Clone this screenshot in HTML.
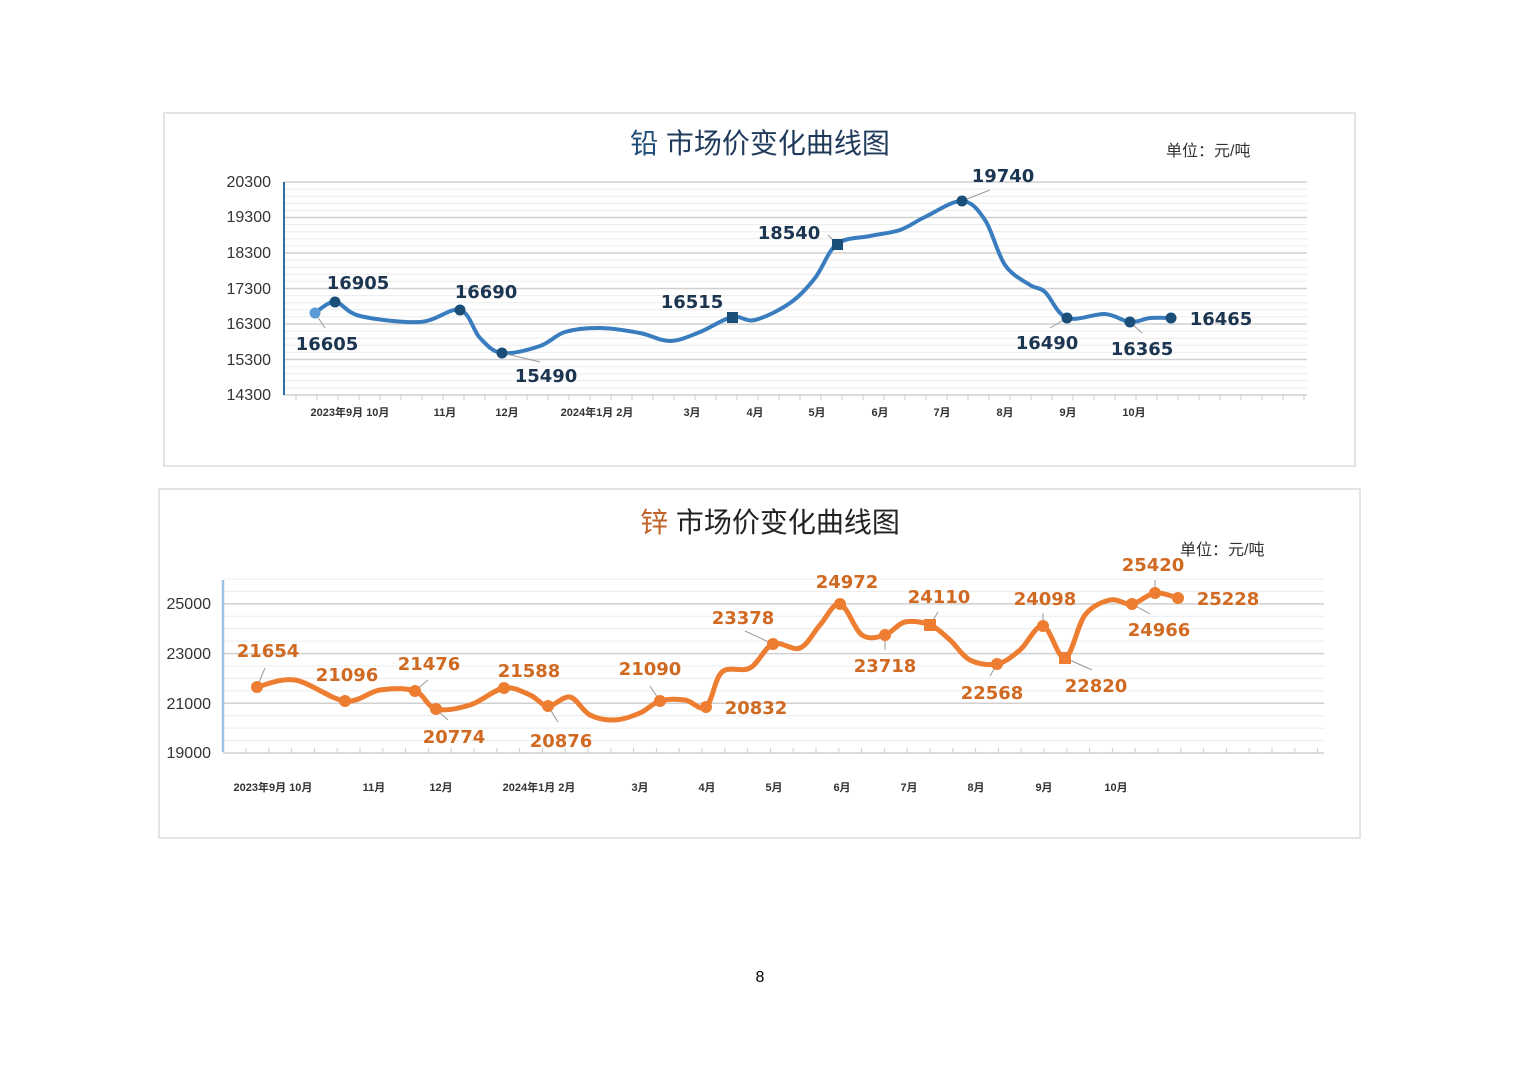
<!DOCTYPE html>
<html><head><meta charset="utf-8"><style>
html,body{margin:0;padding:0;background:#fff;}
svg{display:block;font-family:"Liberation Sans","Noto Sans CJK SC",sans-serif;}
.lb{font-family:"DejaVu Sans","Liberation Sans",sans-serif;font-weight:bold;font-size:18px;}
</style></head><body>
<svg id="s" width="1520" height="1074" viewBox="0 0 1520 1074" xmlns="http://www.w3.org/2000/svg">
<rect width="1520" height="1074" fill="#fff"/>
<!-- Lead -->
<rect x="164" y="113" width="1191" height="353" fill="#fff" stroke="#dcdcdc" stroke-width="1.5"/>
<text x="760" y="153" font-size="28" text-anchor="middle" fill="#1f3a5a"><tspan fill="#1f4e79">铅</tspan>  市场价变化曲线图</text>
<text x="1166" y="156" font-size="16" fill="#333">单位：元/吨</text>
<g id="leadGrid"></g>
<g font-size="16" fill="#333" text-anchor="end">
<text x="271" y="187">20300</text><text x="271" y="222">19300</text><text x="271" y="258">18300</text><text x="271" y="294">17300</text><text x="271" y="329">16300</text><text x="271" y="365">15300</text><text x="271" y="400">14300</text>
</g>
<line x1="284" y1="182" x2="284" y2="395" stroke="#2e6da4" stroke-width="2"/>
<g font-size="11" fill="#333" text-anchor="middle" font-weight="bold">
<text x="350" y="416">2023年9月  10月</text><text x="445" y="416">11月</text><text x="507" y="416">12月</text><text x="597" y="416">2024年1月  2月</text><text x="692" y="416">3月</text><text x="755" y="416">4月</text><text x="817" y="416">5月</text><text x="880" y="416">6月</text><text x="942" y="416">7月</text><text x="1005" y="416">8月</text><text x="1068" y="416">9月</text><text x="1134" y="416">10月</text>
</g>
<path id="leadPath" fill="none" stroke="#3a7dbf" stroke-width="4"/>
<g stroke="#999" stroke-width="1">
<line x1="315" y1="313" x2="325" y2="328"/><line x1="502" y1="353" x2="540" y2="362"/><line x1="962" y1="201" x2="990" y2="190"/><line x1="1067" y1="318" x2="1050" y2="328"/><line x1="1130" y1="322" x2="1142" y2="333"/><line x1="837" y1="244" x2="828" y2="235"/>
</g>
<g fill="#1a4f7a">
<circle cx="315" cy="313" r="5.5" fill="#5a9bd5"/><circle cx="335" cy="302" r="5.5"/><circle cx="460" cy="310" r="5.5"/><circle cx="502" cy="353" r="5.5"/><rect x="727" y="312" width="11" height="11"/><rect x="832" y="239" width="11" height="11"/><circle cx="962" cy="201" r="5.5"/><circle cx="1067" cy="318" r="5.5"/><circle cx="1130" cy="322" r="5.5"/><circle cx="1171" cy="318" r="5.5"/>
</g>
<g class="lb" fill="#1c3550" text-anchor="middle">
<text x="358" y="289">16905</text><text x="327" y="350">16605</text><text x="486" y="298">16690</text><text x="546" y="382">15490</text><text x="692" y="308">16515</text><text x="789" y="239">18540</text><text x="1003" y="182">19740</text><text x="1047" y="349">16490</text><text x="1142" y="355">16365</text><text x="1221" y="325">16465</text>
</g>
<!-- Zinc -->
<rect x="159" y="489" width="1201" height="349" fill="#fff" stroke="#dcdcdc" stroke-width="1.5"/>
<text x="770" y="532" font-size="28" text-anchor="middle" fill="#222"><tspan fill="#c0642a">锌</tspan>  市场价变化曲线图</text>
<text x="1180" y="555" font-size="16" fill="#333">单位：元/吨</text>
<g id="zincGrid"></g>
<g font-size="16" fill="#333" text-anchor="end">
<text x="211" y="609">25000</text><text x="211" y="659">23000</text><text x="211" y="709">21000</text><text x="211" y="758">19000</text>
</g>
<line x1="223" y1="580" x2="223" y2="752" stroke="#9cc3e6" stroke-width="2.5"/>
<g font-size="11" fill="#333" text-anchor="middle" font-weight="bold">
<text x="273" y="791">2023年9月 10月</text><text x="374" y="791">11月</text><text x="441" y="791">12月</text><text x="539" y="791">2024年1月 2月</text><text x="640" y="791">3月</text><text x="707" y="791">4月</text><text x="774" y="791">5月</text><text x="842" y="791">6月</text><text x="909" y="791">7月</text><text x="976" y="791">8月</text><text x="1044" y="791">9月</text><text x="1116" y="791">10月</text>
</g>
<path id="zincPath" fill="none" stroke="#ed7d31" stroke-width="5"/>
<g stroke="#999" stroke-width="1">
<line x1="257" y1="687" x2="265" y2="668"/><line x1="415" y1="691" x2="428" y2="680"/><line x1="436" y1="709" x2="448" y2="720"/><line x1="548" y1="706" x2="558" y2="722"/><line x1="660" y1="701" x2="650" y2="686"/><line x1="773" y1="644" x2="745" y2="631"/><line x1="885" y1="635" x2="885" y2="650"/><line x1="930" y1="625" x2="938" y2="612"/><line x1="997" y1="664" x2="990" y2="676"/><line x1="1043" y1="626" x2="1043" y2="613"/><line x1="1065" y1="658" x2="1092" y2="670"/><line x1="1132" y1="604" x2="1150" y2="614"/><line x1="1155" y1="593" x2="1155" y2="580"/>
</g>
<g fill="#ed7d31">
<circle cx="257" cy="687" r="6"/><circle cx="345" cy="701" r="6"/><circle cx="415" cy="691" r="6"/><circle cx="436" cy="709" r="6"/><circle cx="504" cy="688" r="6"/><circle cx="548" cy="706" r="6"/><circle cx="660" cy="701" r="6"/><circle cx="706" cy="707" r="6"/><circle cx="773" cy="644" r="6"/><circle cx="840" cy="604" r="6"/><circle cx="885" cy="635" r="6"/><rect x="924" y="619" width="12" height="12"/><circle cx="997" cy="664" r="6"/><circle cx="1043" cy="626" r="6"/><rect x="1059" y="652" width="12" height="12"/><circle cx="1132" cy="604" r="6"/><circle cx="1155" cy="593" r="6"/><circle cx="1178" cy="598" r="6"/>
</g>
<g class="lb" fill="#d06a22" text-anchor="middle">
<text x="268" y="657">21654</text><text x="347" y="681">21096</text><text x="429" y="670">21476</text><text x="454" y="743">20774</text><text x="529" y="677">21588</text><text x="561" y="747">20876</text><text x="650" y="675">21090</text><text x="756" y="714">20832</text><text x="743" y="624">23378</text><text x="847" y="588">24972</text><text x="885" y="672">23718</text><text x="939" y="603">24110</text><text x="992" y="699">22568</text><text x="1045" y="605">24098</text><text x="1096" y="692">22820</text><text x="1159" y="636">24966</text><text x="1153" y="571">25420</text><text x="1228" y="605">25228</text>
</g>
<text x="760" y="982" font-size="16" text-anchor="middle" fill="#000">8</text>
</svg>
<script>
function sm(p){var d="M"+p[0][0]+","+p[0][1];for(var i=0;i<p.length-1;i++){var a=p[i-1]||p[i],b=p[i],c=p[i+1],e=p[i+2]||c;var t=6;d+=" C"+(b[0]+(c[0]-a[0])/t)+","+(b[1]+(c[1]-a[1])/t)+" "+(c[0]-(e[0]-b[0])/t)+","+(c[1]-(e[1]-b[1])/t)+" "+c[0]+","+c[1];}return d;}
var lead=[[315,313],[335,302],[360,316],[420,322],[460,310],[480,338],[502,353],[540,346],[565,332],[600,328],[640,333],[670,341],[700,332],[732,317],[755,320],[790,303],[815,278],[837,244],[870,236],[900,230],[925,217],[962,201],[985,220],[1005,265],[1030,285],[1045,292],[1067,318],[1105,314],[1130,322],[1150,318],[1171,318]];
var zinc=[[257,687],[295,680],[345,701],[380,690],[415,691],[436,709],[470,705],[504,688],[530,695],[548,706],[570,697],[590,715],[615,720],[640,713],[660,701],[685,700],[706,707],[722,672],[750,668],[773,644],[800,648],[820,625],[840,604],[862,635],[885,635],[905,622],[930,625],[950,640],[970,660],[997,664],[1020,650],[1043,626],[1065,658],[1085,615],[1110,600],[1132,604],[1155,593],[1178,598]];
document.getElementById("leadPath").setAttribute("d",sm(lead));
document.getElementById("zincPath").setAttribute("d",sm(zinc));
function grid(g,x1,x2,y0,y1,n,major,off,tickY,tx0,tstep){var G=document.getElementById(g),s="";var st=(y1-y0)/n;for(var i=0;i<=n;i++){var y=y0+i*st;var m=(i%major==off);s+='<line x1="'+x1+'" x2="'+x2+'" y1="'+y+'" y2="'+y+'" stroke="'+(m?"#d0d0d0":"#ececec")+'" stroke-width="'+(m?1.5:1)+'"/>';}
for(var x=tx0;x<=x2;x+=tstep){s+='<line x1="'+x+'" x2="'+x+'" y1="'+tickY+'" y2="'+(tickY+5)+'" stroke="#ccc"/>';}G.innerHTML=s;}
grid("leadGrid",284,1307,182,395,30,5,0,395,296,21);
grid("zincGrid",223,1324,579,753,14,4,2,748,246,22.8);
</script>
</body></html>
